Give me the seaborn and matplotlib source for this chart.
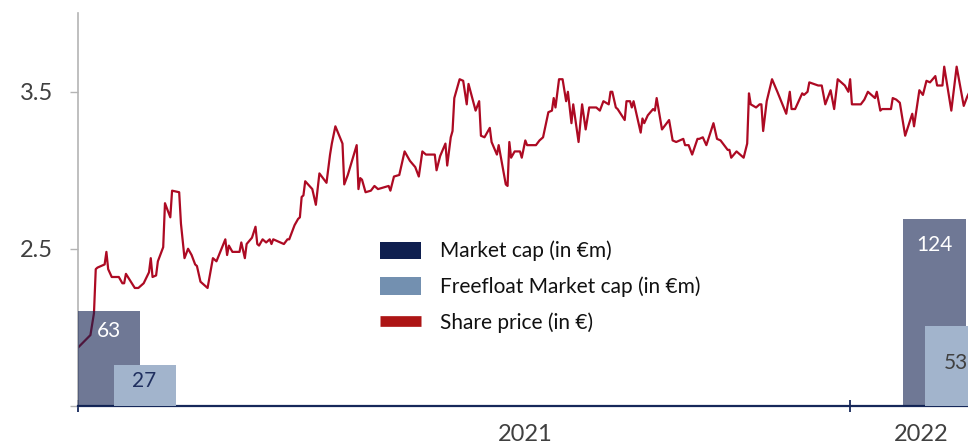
import pandas as pd
import matplotlib.pyplot as plt
import matplotlib.dates as mdates
from matplotlib.patches import Patch
from matplotlib.lines import Line2D
import seaborn as sns

# Share price: days since start date, price in EUR
start = pd.Timestamp("2020-10-23")
price_days = [
    0, 7, 9, 10, 11, 15, 16, 17, 19, 23, 25, 26, 27, 32, 34, 37, 40, 41, 42, 44,
    45, 48, 49, 52, 53, 57, 58, 60, 62, 64, 66, 67, 69, 71, 73, 76, 78, 83, 84, 85,
    87, 88,
    91, 92, 94, 95, 98, 100, 101, 102, 104, 106, 108, 109, 110, 116, 118, 119, 122, 124, 125, 126,
    127, 128, 132, 134, 136, 140, 142, 143, 145, 149, 150, 152, 157, 158, 159, 160, 162, 165, 167, 169,
    175, 176,
    178, 181, 184, 187, 190, 192, 194, 196, 201, 202, 204, 207, 208, 210, 211, 212, 215, 217, 219, 220,
    224, 226, 227, 229, 232, 233, 236, 237, 241, 242, 243, 244, 246, 249, 250, 252, 253, 258, 260, 262,
    265, 267, 268, 269, 271, 273, 275, 276, 278, 279, 280, 282, 284, 286, 288, 292, 294, 296, 299, 300,
    301, 303, 304, 308, 309, 311, 312, 313, 317, 318, 319, 321, 324, 325, 326, 329, 333, 335, 337, 341,
    342, 344, 346, 349,
    350, 352, 354, 358, 360, 362, 366, 367, 368, 371, 374, 375, 377, 378, 379, 382, 384, 385, 386, 388,
    391, 394, 399, 401, 402, 404, 408, 409, 411, 412, 417, 419, 421, 424, 426, 428, 432, 434, 435,
    436, 441, 443, 445, 449, 450, 452, 453, 458, 459, 461, 463, 466, 470, 471, 474, 476, 478, 480, 483,
    484, 487, 488, 492, 495, 499, 501, 504,
]
share_price = [
    1.87, 1.95, 2.09, 2.37, 2.38, 2.40, 2.48, 2.37, 2.32, 2.32, 2.28, 2.28, 2.34, 2.25, 2.25, 2.28, 2.35, 2.44, 2.32, 2.33,
    2.42, 2.51, 2.79, 2.70, 2.87, 2.86, 2.66, 2.44, 2.50, 2.46, 2.40, 2.39, 2.29, 2.27, 2.25, 2.44, 2.42, 2.56, 2.46, 2.52,
    2.48, 2.48,
    2.48, 2.54, 2.44, 2.53, 2.57, 2.64, 2.53, 2.52, 2.56, 2.54, 2.56, 2.53, 2.56, 2.53, 2.56, 2.56, 2.65, 2.69, 2.70, 2.83,
    2.84, 2.93, 2.88, 2.78, 2.98, 2.92, 3.10, 3.17, 3.28, 3.17, 2.91, 2.97, 3.16, 2.88, 2.95, 2.94, 2.86, 2.87, 2.90, 2.88,
    2.90, 2.87,
    2.96, 2.97, 3.12, 3.06, 3.02, 2.96, 3.12, 3.10, 3.10, 3.00, 3.09, 3.17, 3.03, 3.21, 3.25, 3.46, 3.58, 3.57, 3.42, 3.55,
    3.38, 3.44, 3.22, 3.21, 3.27, 3.18, 3.10, 3.16, 2.91, 2.90, 3.18, 3.08, 3.12, 3.12, 3.08, 3.19, 3.16, 3.16, 3.19, 3.21,
    3.37, 3.38, 3.46, 3.40, 3.58, 3.58, 3.44, 3.50, 3.30, 3.42, 3.34, 3.18, 3.42, 3.26, 3.40, 3.40, 3.38, 3.44, 3.42, 3.50,
    3.50, 3.40, 3.39, 3.32, 3.44, 3.44, 3.40, 3.44, 3.24, 3.33, 3.30, 3.35, 3.39, 3.38, 3.46, 3.26, 3.32, 3.19, 3.18, 3.20,
    3.16, 3.16, 3.10, 3.20,
    3.20, 3.21, 3.16, 3.30, 3.20, 3.19, 3.13, 3.13, 3.08, 3.12, 3.09, 3.08, 3.17, 3.49, 3.42, 3.40, 3.42, 3.42, 3.25, 3.44,
    3.58, 3.50, 3.36, 3.50, 3.39, 3.39, 3.49, 3.48, 3.50, 3.56, 3.54, 3.54, 3.42, 3.51, 3.39, 3.58, 3.54, 3.50, 3.58,
    3.42, 3.42, 3.45, 3.50, 3.46, 3.50, 3.38, 3.39, 3.39, 3.46, 3.45, 3.43, 3.22, 3.36, 3.28, 3.51, 3.48, 3.57, 3.56, 3.60,
    3.54, 3.54, 3.66, 3.38, 3.66, 3.41, 3.47, 3.54,
]

# Market cap bars (in EUR m), at the start and end of the period
cap_days = [17.5, 482.5]
market_cap = [63, 124]
freefloat_days = [37.5, 494.4]
freefloat_cap = [27, 53]

year_labels = ["2021", "2022"]
year_label_dates = ["2021-07-02", "2022-02-10"]
year_tick_dates = ["2020-10-23", "2022-01-01"]

NAVY = "#0f1f4f"
FREEFLOAT = "#7390b0"
FREEFLOAT_BAR = "#a2b4cc"
RED = "#ad0a23"
LINE_LEGEND = "#ad1515"
AXIS_NAVY = "#16285a"
TEXT = "#404040"

sns.set_theme(style="white")
plt.rcParams["font.family"] = ["Lato", "DejaVu Sans"]

df = pd.DataFrame({
    "date": start + pd.to_timedelta(price_days, unit="D"),
    "price": share_price,
})

fig = plt.figure(figsize=(9.68, 4.43), dpi=100)
ax = fig.add_axes([78 / 968, 1 - 405.7 / 443, 890 / 968, 392.4 / 443])

sns.lineplot(data=df, x="date", y="price", ax=ax, color=RED, linewidth=1.6,
             estimator=None, sort=False)

ax.set_xlim(start, start + pd.Timedelta(days=501.4))
ax.set_ylim(1.5, 4.0)
ax.set_xlabel("")
ax.set_ylabel("")

# y axis
ax.set_yticks([1.5, 2.5, 3.5])
ax.set_yticklabels(["", "2.5", "3.5"])
ax.tick_params(axis="y", direction="out", length=6, width=1, color="#b4b4b4",
               labelsize=17, labelcolor=TEXT, pad=12, left=True)

# x axis: tick marks at period boundaries, year labels in between
ax.set_xticks(pd.to_datetime(year_tick_dates))
ax.set_xticklabels(["", ""])
ax.set_xticks(pd.to_datetime(year_label_dates), minor=True)
ax.set_xticklabels(year_labels, minor=True)
ax.tick_params(axis="x", which="major", direction="inout", length=9, width=1.3,
               color=AXIS_NAVY, bottom=True)
ax.tick_params(axis="x", which="minor", length=0, labelsize=17, labelcolor=TEXT, pad=13)

for side in ["top", "right"]:
    ax.spines[side].set_visible(False)
ax.spines["left"].set_color("#b4b4b4")
ax.spines["left"].set_linewidth(1.2)
ax.spines["bottom"].set_color(AXIS_NAVY)
ax.spines["bottom"].set_linewidth(1.6)

# bars on a secondary scale, drawn above the line
ax2 = ax.twinx()
ax2.set_ylim(0, 260)
ax2.set_yticks([])
for spine in ax2.spines.values():
    spine.set_visible(False)

cap_x = mdates.date2num(start + pd.to_timedelta(cap_days, unit="D"))
ff_x = mdates.date2num(start + pd.to_timedelta(freefloat_days, unit="D"))
ax2.bar(cap_x, market_cap, width=35, color=NAVY, alpha=0.6, linewidth=0)
ax2.bar(ff_x, freefloat_cap, width=35, color=FREEFLOAT_BAR, linewidth=0)

cap_label_offsets = [14.4, 19.4]
ff_label_offsets = [11.2, 26.6]
for x, v, off in zip(cap_x, market_cap, cap_label_offsets):
    ax2.annotate(str(v), xy=(x, v), xytext=(0, -off), textcoords="offset points",
                 ha="center", va="center", fontsize=15, color="white")
for x, v, off, c in zip(ff_x, freefloat_cap, ff_label_offsets, ["#1f2f5f", TEXT]):
    ax2.annotate(str(v), xy=(x, v), xytext=(0, -off), textcoords="offset points",
                 ha="center", va="center", fontsize=15, color=c)

handles = [
    Patch(facecolor=NAVY, edgecolor="none", label="Market cap (in €m)"),
    Patch(facecolor=FREEFLOAT, edgecolor="none", label="Freefloat Market cap (in €m)"),
    Line2D([], [], color=LINE_LEGEND, linewidth=7.7, solid_capstyle="butt",
           label="Share price (in €)"),
]
ax2.legend(handles=handles, loc="upper left", bbox_to_anchor=(0.339, 0.42),
           frameon=False, fontsize=15, borderpad=0, borderaxespad=0,
           handlelength=2.0, handleheight=0.9, handletextpad=0.87,
           labelspacing=0.72, labelcolor="#111111")

fig.savefig("out.png", dpi=100)
